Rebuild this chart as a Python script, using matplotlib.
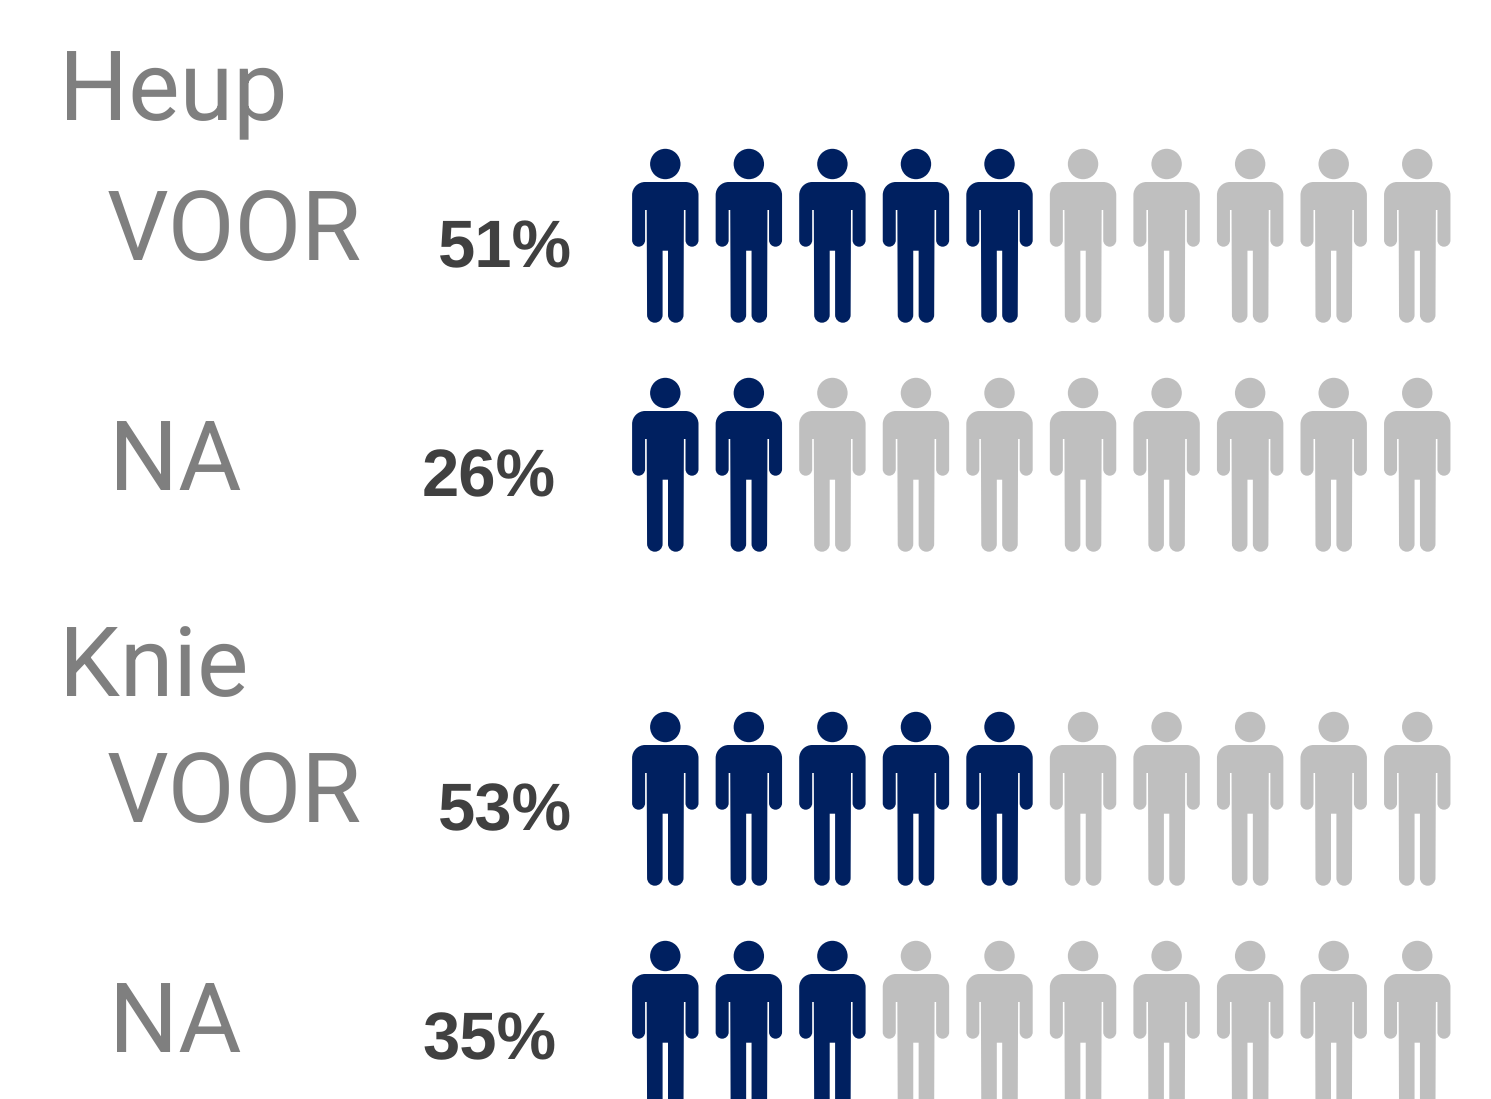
import numpy as np
import matplotlib
matplotlib.use("Agg")
import matplotlib.pyplot as plt
from matplotlib.path import Path
from matplotlib.patches import PathPatch, Circle
from matplotlib.transforms import Affine2D

plt.rcParams["text.hinting"] = "none"
plt.rcParams["text.hinting_factor"] = 1

# data
group_names = ["Heup", "Knie"]
row_labels = ["VOOR", "NA", "VOOR", "NA"]
pct_labels = ["51%", "26%", "53%", "35%"]
filled_icons = [5, 2, 5, 3]
total_icons = 10

# styles / layout (pixels)
W, H = 1491, 1099
NAVY, GREY = "#002060", "#BFBFBF"
row_tops = [182, 411, 745, 974]
group_base = [120, 696]
label_base = [260, 490, 822, 1052]
label_x = [107, 109, 107, 109]
pct_base = [267, 496, 830, 1059]
pct_x = [438, 422, 438, 422]
col0, col_step = 665.3, 83.55


def rounded(points):
    """Closed path from (x, y, radius) corners, with circular-like cubic corners."""
    k = 0.5523
    verts, codes = [], []
    n = len(points)
    for i, (x, y, r) in enumerate(points):
        p = np.array([x, y], float)
        a = np.array(points[i - 1][:2], float)
        b = np.array(points[(i + 1) % n][:2], float)
        da = (a - p) / np.linalg.norm(a - p)
        db = (b - p) / np.linalg.norm(b - p)
        start, end = p + da * r, p + db * r
        verts.append(start)
        codes.append(Path.MOVETO if i == 0 else Path.LINETO)
        if r > 0:
            verts += [start - da * r * k, end - db * r * k, end]
            codes += [Path.CURVE4] * 3
    verts.append(verts[0])
    codes.append(Path.CLOSEPOLY)
    return Path(np.array(verts), codes)


right = [(33.2, 0, 13), (33.2, 64.7, 6.5), (20.2, 64.7, 6.5), (20.2, 28, 0),
         (18.6, 28, 0), (18.2, 140.7, 7.7), (2.7, 140.7, 7.7), (2.7, 68.7, 0)]
left = [(-x, y, r) for x, y, r in reversed(right)]
body = rounded(right + left)

fig = plt.figure(figsize=(W / 100, H / 100), dpi=100, facecolor="white")
ax = fig.add_axes([0, 0, 1, 1])
ax.set_xlim(0, W)
ax.set_ylim(H, 0)
ax.axis("off")

for top, n_fill in zip(row_tops, filled_icons):
    for i in range(total_icons):
        c = NAVY if i < n_fill else GREY
        cx = col0 + i * col_step
        ax.add_patch(PathPatch(body, fc=c, ec="none",
                               transform=Affine2D().translate(cx, top) + ax.transData))
        ax.add_patch(Circle((cx, top - 18), 15.2, fc=c, ec="none"))

for name, y in zip(group_names, group_base):
    ax.text(59, y, name, family="Roboto", fontsize=69.5, color="#7F7F7F", va="baseline", ha="left")
for lab, x, y in zip(row_labels, label_x, label_base):
    ax.text(x, y, lab, family="Roboto", fontsize=69.5, color="#7F7F7F", va="baseline", ha="left")
for lab, x, y in zip(pct_labels, pct_x, pct_base):
    ax.text(x, y, lab, family="Liberation Sans", fontweight="bold", fontsize=48.5,
            color="#404040", va="baseline", ha="left")

fig.savefig("out.png", dpi=100)
